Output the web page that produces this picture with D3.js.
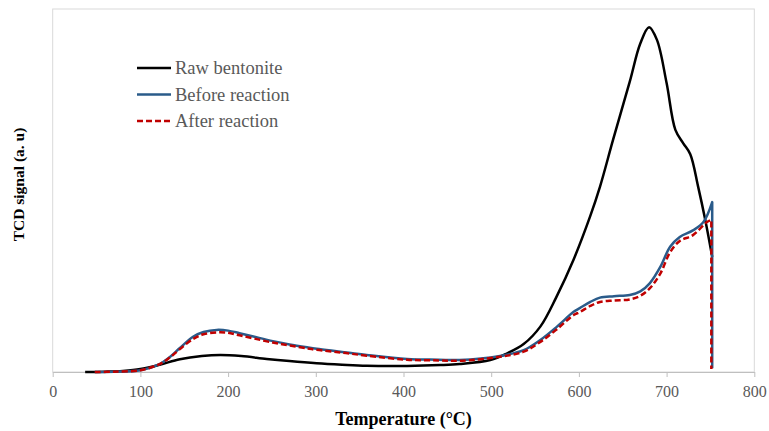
<!DOCTYPE html>
<html>
<head>
<meta charset="utf-8">
<script src="https://cdn.jsdelivr.net/npm/d3@7"></script>
<style>
  body { margin: 0; background: #fff; }
  svg { display: block; font-family: "Times New Roman", "Liberation Serif", serif; }
</style>
</head>
<body>
<div id="viz"></div>
<script>
// temperature (°C) and TCD signal (arbitrary units, 0..1 of plot height)
const rawT = [37, 60, 80, 100, 122, 145, 170, 191, 215, 244, 270, 301, 330, 358, 404, 442, 464, 499, 517, 537, 556, 574, 594, 613, 624, 639, 658, 670, 680, 689, 700, 710, 719, 727, 736, 744, 752];
const rawV = [0, 0.001, 0.003, 0.008, 0.02, 0.035, 0.044, 0.047, 0.044, 0.036, 0.03, 0.024, 0.02, 0.017, 0.0165, 0.019, 0.022, 0.033, 0.05, 0.077, 0.125, 0.205, 0.31, 0.43, 0.51, 0.64, 0.8, 0.905, 0.95, 0.915, 0.796, 0.667, 0.63, 0.6, 0.51, 0.42, 0.317];

const beforeT = [48, 70, 100, 122, 133, 145, 160, 172, 187, 200, 213, 230, 251, 270, 290, 301, 328, 358, 404, 440, 464, 510, 537, 556, 575, 594, 601, 613, 624, 640, 658, 670, 681, 693, 704, 715, 730, 742, 752, 752];
const beforeV = [0, 0.001, 0.005, 0.022, 0.04, 0.066, 0.097, 0.11, 0.116, 0.114, 0.107, 0.097, 0.085, 0.076, 0.068, 0.064, 0.056, 0.047, 0.036, 0.034, 0.033, 0.044, 0.06, 0.088, 0.125, 0.166, 0.176, 0.193, 0.205, 0.209, 0.212, 0.222, 0.245, 0.29, 0.345, 0.372, 0.39, 0.413, 0.468, 0.01];

const afterT = [48, 70, 100, 122, 133, 145, 160, 172, 187, 200, 213, 230, 251, 270, 290, 301, 328, 358, 404, 440, 464, 510, 537, 556, 575, 594, 601, 613, 624, 640, 658, 670, 681, 693, 704, 715, 730, 746, 751, 751];
const afterV = [0, 0.001, 0.005, 0.022, 0.039, 0.063, 0.091, 0.104, 0.109, 0.108, 0.101, 0.092, 0.081, 0.073, 0.065, 0.061, 0.054, 0.045, 0.034, 0.032, 0.031, 0.042, 0.056, 0.083, 0.118, 0.157, 0.165, 0.182, 0.193, 0.197, 0.2, 0.21, 0.231, 0.272, 0.33, 0.361, 0.377, 0.413, 0.419, 0.008];

const seriesNames = ['Raw bentonite', 'Before reaction', 'After reaction'];
const xTicks = [0, 100, 200, 300, 400, 500, 600, 700, 800];

// drop: the last point is reached by a straight vertical fall
const series = [
  { name: seriesNames[0], t: rawT, v: rawV, color: '#000000', dash: null, drop: false },
  { name: seriesNames[1], t: beforeT, v: beforeV, color: '#2a5b8a', dash: null, drop: true },
  { name: seriesNames[2], t: afterT, v: afterV, color: '#c00000', dash: '6,3', drop: true }
];

const width = 769, height = 431;

const svg = d3.select('#viz')
  .append('svg')
  .attr('width', width)
  .attr('height', height);

const x = d3.scaleLinear().domain([0, 800]).range([52.7, 754.3]);
const y = d3.scaleLinear().domain([0, 1]).range([372, 9]);

// plot box
svg.append('rect')
  .attr('x', x(0))
  .attr('y', y(1))
  .attr('width', x(800) - x(0))
  .attr('height', y(0) - y(1))
  .attr('fill', 'none')
  .attr('stroke', '#d9d9d9')
  .attr('stroke-width', 1);

// x axis
const xAxis = svg.append('g')
  .attr('transform', `translate(0,${y(0)})`)
  .call(d3.axisBottom(x).tickValues(xTicks).tickSize(5).tickSizeOuter(0).tickPadding(9));

xAxis.select('.domain').attr('stroke', '#bfbfbf');
xAxis.selectAll('.tick line').attr('stroke', '#bfbfbf');
xAxis.selectAll('.tick text')
  .attr('fill', '#595959')
  .style('font-size', '16px')
  .style('font-family', '"Times New Roman", "Liberation Serif", serif');

// lines
const line = d3.line()
  .x(d => x(d[0]))
  .y(d => y(d[1]))
  .curve(d3.curveCatmullRom.alpha(0.5));

const pathFor = d => {
  const pts = d.t.map((t, i) => [t, d.v[i]]);
  if (!d.drop) return line(pts);
  const last = pts[pts.length - 1];
  return line(pts.slice(0, -1)) + `L${x(last[0])},${y(last[1])}`;
};

svg.selectAll('.series')
  .data(series)
  .enter()
  .append('path')
  .attr('class', 'series')
  .attr('fill', 'none')
  .attr('stroke', d => d.color)
  .attr('stroke-width', 2.5)
  .attr('stroke-linejoin', 'round')
  .attr('stroke-dasharray', d => d.dash)
  .attr('d', pathFor);

// legend
const legend = svg.selectAll('.legend')
  .data(series)
  .enter()
  .append('g')
  .attr('class', 'legend')
  .attr('transform', (d, i) => `translate(137,${68 + i * 26.5})`);

legend.append('line')
  .attr('x1', 0)
  .attr('x2', 34)
  .attr('stroke', d => d.color)
  .attr('stroke-width', 2.5)
  .attr('stroke-dasharray', d => d.dash);

legend.append('text')
  .attr('x', 38)
  .attr('dy', '0.35em')
  .attr('fill', '#595959')
  .style('font-size', '18.5px')
  .text(d => d.name);

// axis titles
svg.append('text')
  .attr('x', (x(0) + x(800)) / 2)
  .attr('y', 425)
  .attr('text-anchor', 'middle')
  .style('font-size', '18px')
  .style('font-weight', 'bold')
  .text('Temperature (°C)');

svg.append('text')
  .attr('transform', `translate(24,${(y(0) + y(1)) / 2 - 6}) rotate(-90)`)
  .attr('text-anchor', 'middle')
  .style('font-size', '15.5px')
  .style('font-weight', 'bold')
  .text('TCD signal (a. u)');
</script>
</body>
</html>
